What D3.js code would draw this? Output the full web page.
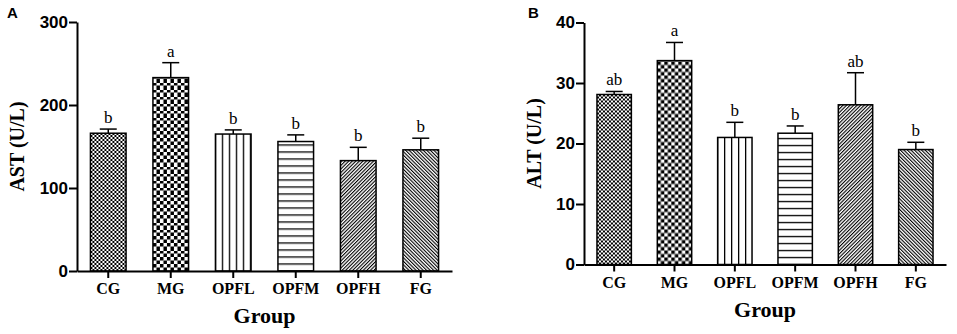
<!DOCTYPE html>
<html>
<head>
<meta charset="utf-8">
<script src="https://cdn.jsdelivr.net/npm/d3@7"></script>
<style>
  body { margin: 0; background: #fff; }
  svg { display: block; }
</style>
</head>
<body>
<div id="chart"></div>
<script>
// data
const groups = ["CG", "MG", "OPFL", "OPFM", "OPFH", "FG"];
const astMean = [166, 233, 165, 156, 133, 146];
const astErr = [5, 18, 5, 8, 16, 14];
const astSig = ["b", "a", "b", "b", "b", "b"];
const altMean = [28.1, 33.7, 21.0, 21.7, 26.4, 19.0];
const altErr = [0.5, 3.0, 2.5, 1.2, 5.3, 1.2];
const altSig = ["ab", "a", "b", "b", "ab", "b"];
const astTicks = [0, 100, 200, 300];
const altTicks = [0, 10, 20, 30, 40];

const width = 957, height = 334;

const svg = d3.select("#chart")
  .append("svg")
  .attr("width", width)
  .attr("height", height);

const defs = svg.append("defs");

// pattern for each group, id prefix per panel
function makePatterns(prefix, x, y0) {
  groups.forEach(g => {
    const p = defs.append("pattern")
      .attr("id", `${prefix}-${g}`)
      .attr("patternUnits", "userSpaceOnUse");
    const bx = x(g);
    if (g === "CG" || g === "MG") {
      const c = g === "CG" ? 2 : 3.5;
      p.attr("width", 2 * c).attr("height", 2 * c)
        .attr("patternTransform", `translate(${bx},${y0})`);
      p.append("rect").attr("width", 2 * c).attr("height", 2 * c).attr("fill", "#fff");
      p.append("rect").attr("width", c).attr("height", c).attr("fill", "#000");
      p.append("rect").attr("x", c).attr("y", c).attr("width", c).attr("height", c).attr("fill", "#000");
    } else if (g === "OPFL") {
      p.attr("width", 7).attr("height", 10)
        .attr("patternTransform", `translate(${bx - 0.65},0)`);
      p.append("rect").attr("width", 7).attr("height", 10).attr("fill", "#fff");
      p.append("rect").attr("width", 1.3).attr("height", 10).attr("fill", "#000");
    } else if (g === "OPFM") {
      p.attr("width", 10).attr("height", 7)
        .attr("patternTransform", `translate(0,${y0 - 0.65})`);
      p.append("rect").attr("width", 10).attr("height", 7).attr("fill", "#fff");
      p.append("rect").attr("width", 10).attr("height", 1.3).attr("fill", "#000");
    } else {
      p.attr("width", 2.5).attr("height", 10)
        .attr("patternTransform", `rotate(${g === "OPFH" ? 45 : -45})`);
      p.append("rect").attr("width", 2.5).attr("height", 10).attr("fill", "#fff");
      p.append("rect").attr("width", 1.1).attr("height", 10).attr("fill", "#000");
    }
  });
}

function drawPanel(opt) {
  const x = d3.scaleBand()
    .domain(groups)
    .range([opt.left, opt.right])
    .paddingInner(0.43)
    .paddingOuter(0.215);

  const y = d3.scaleLinear()
    .domain([0, opt.max])
    .range([opt.bottom, opt.top]);

  makePatterns(opt.id, x, opt.bottom);

  const g = svg.append("g");

  // error bars (upper only)
  const capW = 17;
  groups.forEach((d, i) => {
    const cx = x(d) + x.bandwidth() / 2;
    const yTop = y(opt.mean[i] + opt.err[i]);
    g.append("line")
      .attr("x1", cx).attr("x2", cx)
      .attr("y1", y(opt.mean[i])).attr("y2", yTop)
      .attr("stroke", "#000").attr("stroke-width", 1.5);
    g.append("line")
      .attr("x1", cx - capW / 2).attr("x2", cx + capW / 2)
      .attr("y1", yTop).attr("y2", yTop)
      .attr("stroke", "#000").attr("stroke-width", 1.5);
    g.append("text")
      .attr("x", cx)
      .attr("y", yTop - 6)
      .attr("text-anchor", "middle")
      .style("font-family", "'Liberation Serif', 'Times New Roman', serif")
      .style("font-size", "17px")
      .text(opt.sig[i]);
  });

  // bars
  g.selectAll(".bar")
    .data(groups)
    .enter().append("rect")
    .attr("class", "bar")
    .attr("x", d => x(d))
    .attr("y", (d, i) => y(opt.mean[i]))
    .attr("width", x.bandwidth())
    .attr("height", (d, i) => y(0) - y(opt.mean[i]))
    .attr("fill", d => `url(#${opt.id}-${d})`)
    .attr("stroke", "#000")
    .attr("stroke-width", 1.5);

  // y axis
  const yAxis = g.append("g")
    .attr("transform", `translate(${opt.left},0)`)
    .call(d3.axisLeft(y).tickValues(opt.ticks).tickSize(8).tickSizeOuter(0).tickPadding(1));
  yAxis.selectAll("path, line").attr("stroke", "#000").attr("stroke-width", 2);
  yAxis.selectAll("text")
    .style("font-family", "'Liberation Sans', Arial, sans-serif")
    .style("font-weight", "bold")
    .style("font-size", "17px")
    .attr("fill", "#000");

  // x axis
  const xAxis = g.append("g")
    .attr("transform", `translate(0,${opt.bottom})`)
    .call(d3.axisBottom(x).tickSize(7).tickSizeOuter(0).tickPadding(5));
  xAxis.selectAll("path, line").attr("stroke", "#000").attr("stroke-width", 2);
  xAxis.selectAll("text")
    .style("font-family", "'Liberation Serif', 'Times New Roman', serif")
    .style("font-weight", "bold")
    .style("font-size", "16px")
    .attr("fill", "#000");

  // axis titles
  g.append("text")
    .attr("x", (opt.left + opt.right) / 2)
    .attr("y", opt.bottom + 52)
    .attr("text-anchor", "middle")
    .style("font-family", "'Liberation Serif', 'Times New Roman', serif")
    .style("font-weight", "bold")
    .style("font-size", "22px")
    .text("Group");

  g.append("text")
    .attr("transform", `translate(${opt.yLabelX},${(opt.top + opt.bottom) / 2}) rotate(-90)`)
    .attr("text-anchor", "middle")
    .style("font-family", "'Liberation Serif', 'Times New Roman', serif")
    .style("font-weight", "bold")
    .style("font-size", "20px")
    .text(opt.yLabel);

  // panel letter
  g.append("text")
    .attr("x", opt.letterX)
    .attr("y", 18)
    .style("font-family", "'Liberation Sans', Arial, sans-serif")
    .style("font-weight", "bold")
    .style("font-size", "15px")
    .text(opt.id);
}

drawPanel({
  id: "A", left: 77, right: 452, top: 22, bottom: 271,
  max: 300, ticks: astTicks, mean: astMean, err: astErr, sig: astSig,
  yLabel: "AST (U/L)", yLabelX: 24, letterX: 7
});

drawPanel({
  id: "B", left: 584, right: 946, top: 22.5, bottom: 264.5,
  max: 40, ticks: altTicks, mean: altMean, err: altErr, sig: altSig,
  yLabel: "ALT (U/L)", yLabelX: 541, letterX: 528
});
</script>
</body>
</html>
